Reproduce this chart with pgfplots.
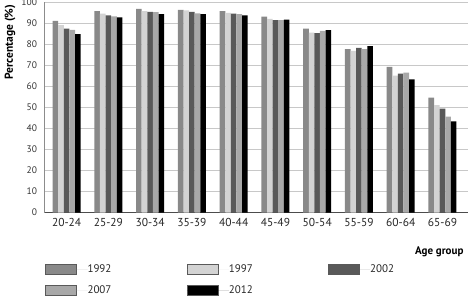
\documentclass[border=0pt]{standalone}
\usepackage{pgfplots}
\pgfplotsset{compat=1.18}
\usepackage{fontspec}
\setmainfont{PT Sans}
\definecolor{cA}{HTML}{898989}
\definecolor{cB}{HTML}{D3D3D3}
\definecolor{cC}{HTML}{595959}
\definecolor{cD}{HTML}{A8A8A8}
\definecolor{cE}{HTML}{000000}
\definecolor{gridc}{HTML}{C8C8C8}
\begin{document}
\begin{tikzpicture}[x=1pt,y=1pt]
\useasboundingbox (0,0) rectangle (468,295);
\begin{axis}[
  at={(44.5pt,82.5pt)}, anchor=south west,
  scale only axis, width=423pt, height=210.5pt,
  xmin=-0.53, xmax=9.6, ymin=0, ymax=100,
  ytick={0,10,...,100},
  xtick={0,...,9},
  xticklabels={20-24,25-29,30-34,35-39,40-44,45-49,50-54,55-59,60-64,65-69},
  axis x line*=bottom, axis y line*=left,
  axis line style={draw=black!45, line width=0.8pt},
  x axis line style={draw=black!70},
  ymajorgrids, grid style={draw=gridc, line width=0.6pt},
  major tick length=0pt,
  /pgf/number format/assume math mode=true,
  yticklabel style={font=\fontsize{9.5}{10}\selectfont, text=black!80, xshift=-4pt},
  xticklabel style={font=\fontsize{11.5}{12}\selectfont, text=black!85, yshift=-2.5pt},
  ybar=0pt, bar width=5.6pt,
  ylabel={\textbf{Percentage (\%)}},
  ylabel style={font=\fontsize{11.5}{12}\selectfont, at={(axis description cs:-0.0816,0.81)}, anchor=center},
  xlabel={\textbf{Age group}},
  xlabel style={font=\fontsize{11}{12}\selectfont, at={(axis description cs:0.9988,-0.185)}, anchor=east},
  legend columns=3,
  legend style={draw=none, fill=none, at={(axis description cs:0.0012,-0.243)}, anchor=north west,
    font=\fontsize{11}{12}\selectfont, inner sep=0pt, row sep=10.5pt,
    nodes={inner sep=0pt, anchor=west, text=black!85}},
  legend image code/.code={\draw[#1,draw=black!65,line width=0.6pt] (0pt,-5pt) rectangle (31pt,5pt); \path (0pt,0pt) -- (42pt,0pt);},
]
\addplot[fill=cA, draw=none] coordinates {(0,91.0) (1,95.7) (2,96.7) (3,96.2) (4,95.7) (5,93.1) (6,87.3) (7,77.6) (8,69.2) (9,54.6)};
\addplot[fill=cB, draw=none] coordinates {(0,89.0) (1,94.5) (2,95.7) (3,96.0) (4,94.8) (5,92.0) (6,85.5) (7,76.8) (8,65.0) (9,51.0)};
\addplot[fill=cC, draw=none] coordinates {(0,87.4) (1,93.7) (2,95.3) (3,95.3) (4,94.5) (5,91.4) (6,85.2) (7,78.2) (8,66.0) (9,49.3)};
\addplot[fill=cD, draw=none] coordinates {(0,86.7) (1,93.2) (2,95.2) (3,94.6) (4,94.2) (5,91.4) (6,86.3) (7,77.6) (8,66.4) (9,45.6)};
\addplot[fill=cE, draw=none] coordinates {(0,84.7) (1,92.7) (2,94.2) (3,94.2) (4,93.7) (5,91.6) (6,86.6) (7,79.0) (8,63.2) (9,43.3)};
\legend{\makebox[99pt][l]{1992},\makebox[99pt][l]{1997},\makebox[99pt][l]{2002},\makebox[99pt][l]{2007},\makebox[99pt][l]{2012}}
\end{axis}
\end{tikzpicture}
\end{document}
